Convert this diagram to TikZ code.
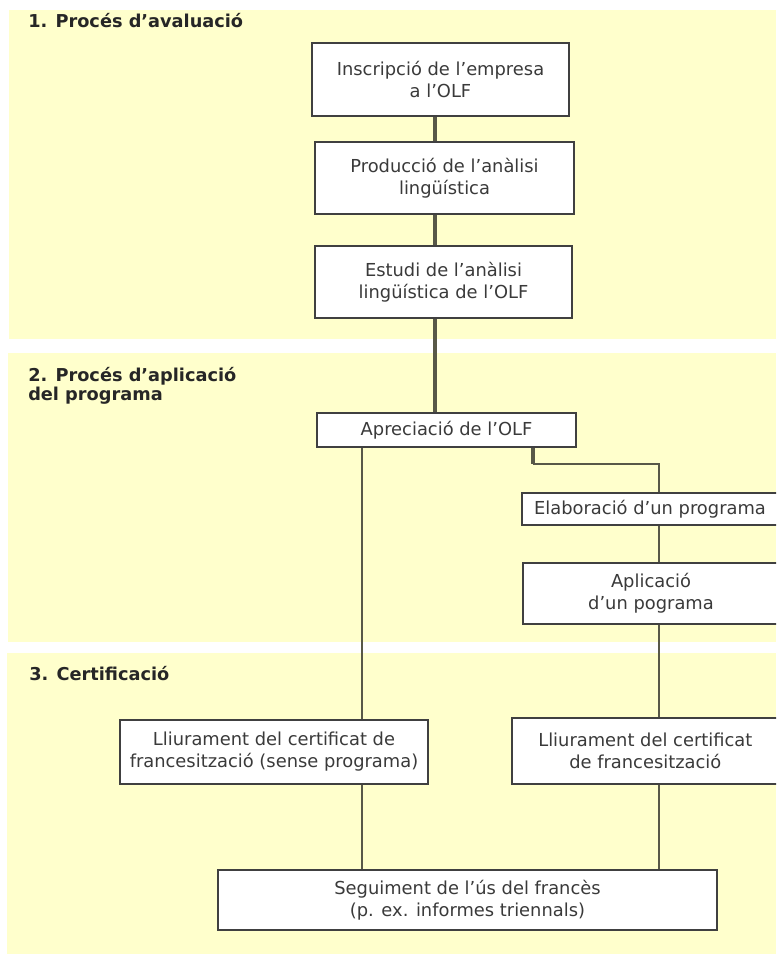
\documentclass[tikz,border=0pt]{standalone}
\usepackage{fontspec}
\setmainfont{DejaVu Sans}
\usepackage{tikz}
\usetikzlibrary{positioning}

\definecolor{bandyellow}{RGB}{255,255,204}
\definecolor{boxline}{RGB}{64,64,64}
\definecolor{linkline}{RGB}{88,88,72}
\definecolor{boxtext}{RGB}{58,58,58}

\tikzset{
  stepbox/.style={draw=boxline, line width=1.6pt, fill=white, align=center, text=boxtext,
    font=\fontsize{13.4}{16.5}\selectfont, inner sep=2pt},
  heading/.style={anchor=base west, inner sep=0pt, align=left, text=black!85,
    font=\bfseries\fontsize{13.3}{14}\selectfont},
  link/.style={draw=linkline, line width=1.4pt},
  thicklink/.style={draw=linkline, line width=3pt},
}

\begin{document}
\begin{tikzpicture}[x=0.75pt,y=0.75pt,yscale=-1,xscale=1]
        \useasboundingbox (0,0) rectangle (776,954);
        \clip (0,0) rectangle (776,954);
        \fill[white] (0,0) rectangle (776,954);
        %Shape: Rectangle [bands]
        \fill[bandyellow] (9,10) rectangle (776,339);
        \fill[bandyellow] (8,353) rectangle (776,642);
        \fill[bandyellow] (7,653) rectangle (776,954);
        % Text Node
        \node[heading] (h1) at (28,27) {1. Procés d’avaluació};
        % Text Node
        \node[heading] (h2) at (28,400) {2. Procés d’aplicació\\del programa};
        % Text Node
        \node[heading] (h3) at (29,680) {3. Certificació};
        %Shape: Rectangle [steps]
        \node[stepbox, minimum width=192.75pt, minimum height=54.75pt] (ins) at (440.5,79.5) {Inscripció de l’empresa\\a l’OLF};
        \node[stepbox, minimum width=194.25pt, minimum height=54pt] (prod) at (444.5,178) {Producció de l’anàlisi\\lingüística};
        \node[stepbox, minimum width=192.75pt, minimum height=54pt] (est) at (443.5,282) {Estudi de l’anàlisi\\lingüística de l’OLF};
        \node[stepbox, minimum width=194.25pt, minimum height=25.5pt] (apr) at (446.5,430) {Apreciació de l’OLF};
        \node[stepbox, minimum width=210pt, minimum height=24pt] (elab) at (662,509) {\hspace*{-18pt}Elaboració d’un programa};
        \node[stepbox, minimum width=210pt, minimum height=45.75pt] (apl) at (663,593.5) {Aplicació\hspace*{18pt}\\d’un pograma\hspace*{18pt}};
        \node[stepbox, minimum width=216pt, minimum height=49.5pt] (ll2) at (656,751) {Lliurament del certificat\hspace*{16pt}\\de francesització\hspace*{16pt}};
        \node[stepbox, minimum width=231pt, minimum height=48pt] (ll1) at (274,752) {Lliurament del certificat de\\francesització (sense programa)};
        \node[stepbox, minimum width=374.25pt, minimum height=45pt] (seg) at (467.5,900) {Seguiment de l’ús del francès\\(p. ex. informes triennals)};
        %Straight Lines [guides]
        \coordinate (mx) at (435,0);
        \coordinate (lx) at (362,0);
        \coordinate (rx) at (659,0);
        \coordinate (ax) at (533,464);
        \coordinate (bx) at (659,464);
        %Straight Lines
        \draw[thicklink] (ins.south -| mx) -- (prod.north -| mx);
        \draw[thicklink] (prod.south -| mx) -- (est.north -| mx);
        \draw[thicklink] (est.south -| mx) -- (apr.north -| mx);
        \draw[thicklink] (apr.south -| ax) -- (ax);
        \draw[link] (ax) -- (bx) -- (elab.north -| bx);
        \draw[link] (elab.south -| rx) -- (apl.north -| rx);
        \draw[link] (apl.south -| rx) -- (ll2.north -| rx);
        \draw[link] (apr.south -| lx) -- (ll1.north -| lx);
        \draw[link] (ll1.south -| lx) -- (seg.north -| lx);
        \draw[link] (ll2.south -| rx) -- (seg.north -| rx);
\end{tikzpicture}
\end{document}
